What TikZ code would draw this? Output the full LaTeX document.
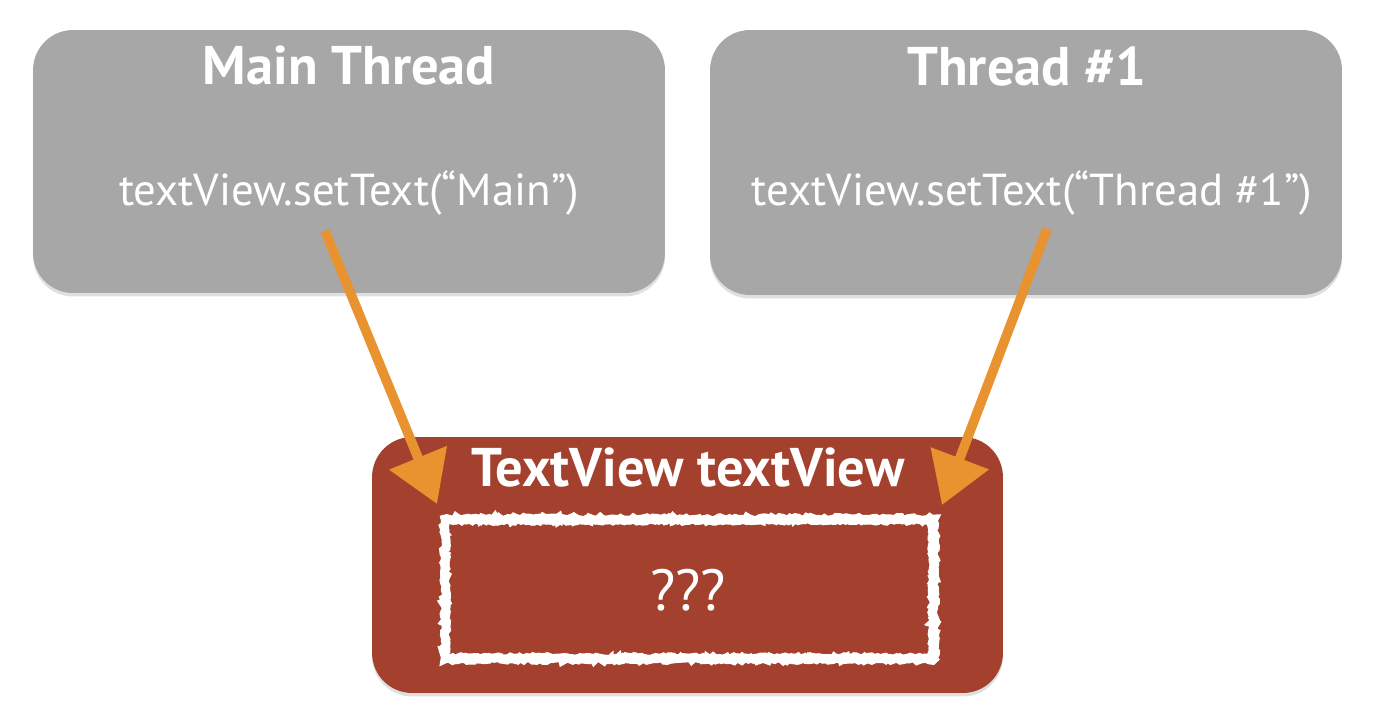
\documentclass[tikz,border=0pt]{standalone}
\usepackage{fontspec}
\setmainfont{PT Sans}
\usetikzlibrary{positioning}
\usetikzlibrary{arrows.meta}
\usetikzlibrary{shadows}
\usetikzlibrary{decorations.pathmorphing}
\definecolor{threadgray}{HTML}{A7A7A7}
\definecolor{viewred}{HTML}{A3412E}
\definecolor{chalkorange}{HTML}{E8932F}
\tikzset{
box/.style={ % rounded boxes
rounded corners=0.8cm,
inner sep=0pt,
drop shadow={opacity=0.25, shadow xshift=0pt, shadow yshift=-2pt}},
title/.style={ % box headings
text=white,
font=\fontsize{31}{36}\selectfont\bfseries},
code/.style={ % call inside a box
text=white,
font=\fontsize{25.5}{30}\selectfont},
chalk/.style={ % white chalk frame
draw=white,
line width=5pt,
decoration={random steps, segment length=1.5pt, amplitude=0.9pt},
decorate},
setcall/.style={ % orange arrows
draw=chalkorange,
line width=5.5pt,
-{Triangle[width=1.2cm, length=1cm]}}}

\begin{document}
\begin{tikzpicture}[x=0.02cm, y=-0.02cm]
\useasboundingbox (0,0) rectangle (1376,722);
% threads
\node[box, fill=threadgray, minimum width=12.64cm, minimum height=5.26cm] (main) at (349,161.5) {};
\node[box, fill=threadgray, minimum width=12.64cm, minimum height=5.3cm] (thread) at (1026,162.5) {};
\node[title] (mainname) at (349,66) {Main Thread};
\node[title] (threadname) at (1027,66) {Thread \#1};
\node[code] (maincall) at (349,193) {textView.setText(“Main”)};
\node[code] (threadcall) at (1032,193) {textView.setText(“Thread \#1”)};
% shared view
\node[box, fill=viewred, minimum width=12.62cm, minimum height=5.12cm] (view) at (687.5,565) {};
\node[title] (viewname) at (688,468) {TextView textView};
\draw[chalk] (445,519) rectangle (934,659);
\draw[chalk, line width=2.5pt] (447,522) rectangle (931,656);
\node[code, font=\fontsize{33}{38}\selectfont] (value) at (688,590) {???};
% arrows
\coordinate (mainsrc) at (325,231);
\coordinate (mainhit) at (437,504);
\coordinate (threadsrc) at (1047,229);
\coordinate (threadhit) at (942,505);
\draw[setcall] (mainsrc) -- (mainhit);
\draw[setcall] (threadsrc) -- (threadhit);
\end{tikzpicture}
\end{document}
